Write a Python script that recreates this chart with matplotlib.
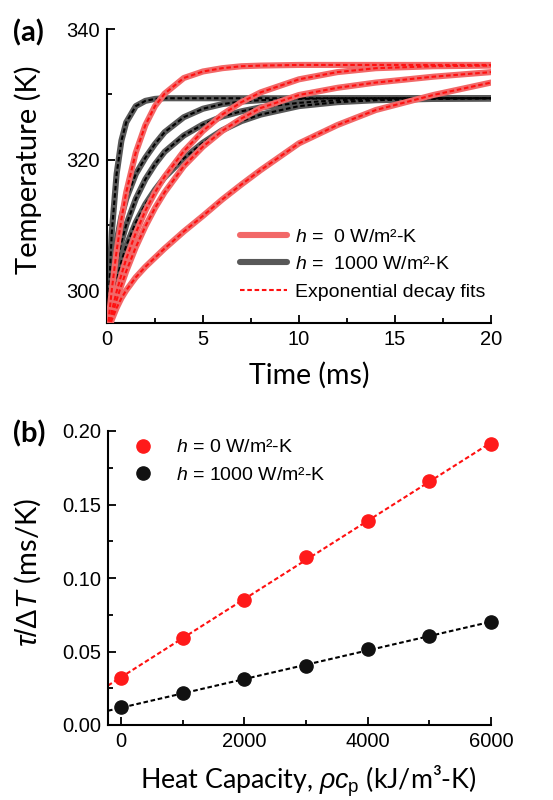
import numpy as np
import matplotlib
matplotlib.use('Agg')
import matplotlib.pyplot as plt
from matplotlib.ticker import MultipleLocator, FormatStrFormatter
from matplotlib.lines import Line2D

plt.rcParams['font.family'] = ['Liberation Sans', 'DejaVu Sans']
plt.rcParams['mathtext.fontset'] = 'custom'
plt.rcParams['mathtext.rm'] = 'Liberation Sans'
plt.rcParams['mathtext.it'] = 'Liberation Sans:italic'

# ---------------- data: panel (a) ----------------
time_ms = [0, 0.25, 0.5, 0.75, 1, 1.5, 2, 2.5, 3, 4, 5, 6, 7, 8, 10, 12, 14, 17, 20]

temp_h0 = [
    [293.0, 300.1, 306.0, 310.9, 315.0, 321.1, 325.3, 328.2, 330.1, 332.5, 333.5, 334.0, 334.3, 334.4, 334.5, 334.5, 334.5, 334.5, 334.5],
    [293.0, 296.8, 299.8, 302.4, 304.8, 308.8, 312.2, 315.0, 317.4, 321.3, 324.4, 326.9, 328.8, 330.3, 332.3, 333.4, 334.0, 334.3, 334.4],
    [293.0, 296.0, 298.5, 300.8, 302.9, 306.6, 309.8, 312.6, 315.0, 319.0, 322.0, 324.4, 326.3, 327.9, 329.9, 331.0, 331.8, 332.7, 333.4],
    [293.0, 295.5, 297.3, 298.8, 300.0, 302.0, 303.6, 305.0, 306.4, 309.0, 311.4, 313.9, 316.2, 318.4, 322.5, 325.3, 327.6, 329.9, 331.8],
]

temp_h1000 = [
    [293.0, 308.9, 317.8, 322.9, 325.7, 328.2, 329.0, 329.3, 329.4, 329.4, 329.4, 329.4, 329.4, 329.4, 329.4, 329.4, 329.4, 329.4, 329.4],
    [293.0, 302.0, 307.5, 311.3, 314.0, 317.8, 320.3, 322.4, 324.2, 326.5, 327.8, 328.5, 328.9, 329.1, 329.3, 329.4, 329.4, 329.4, 329.4],
    [293.0, 299.5, 304.0, 307.4, 310.0, 314.0, 317.0, 319.3, 321.2, 323.7, 325.4, 326.6, 327.4, 328.0, 328.7, 329.1, 329.3, 329.4, 329.4],
    [293.0, 298.0, 301.6, 304.4, 306.8, 310.4, 313.2, 315.4, 317.3, 320.2, 322.6, 324.5, 325.9, 326.9, 328.2, 328.8, 329.1, 329.3, 329.4],
]

# ---------------- data: panel (b) ----------------
heat_capacity = [0, 1000, 2000, 3000, 4000, 5000, 6000]
tau_dT_h0 = [0.032, 0.059, 0.085, 0.114, 0.139, 0.166, 0.191]
tau_dT_h1000 = [0.012, 0.0215, 0.031, 0.040, 0.052, 0.0605, 0.070]

legend_a = [r'$h$ =  0 W/m²-K', r'$h$ =  1000 W/m²-K', 'Exponential decay fits']
legend_b = [r'$h$ = 0 W/m²-K', r'$h$ = 1000 W/m²-K']

RED_SOLID = '#f26868'
GRAY_SOLID = '#585858'
RED_FIT = '#ff1010'
BLACK_FIT = '#000000'
LABEL_FONT = ['Lato', 'DejaVu Sans']

fig = plt.figure(figsize=(5.53, 8.0), dpi=100)
ax1 = fig.add_axes([107/553, 1-323/800, 384/553, 294/800])
ax2 = fig.add_axes([108/553, 1-725/800, 383/553, 294/800])

def style_axes(ax):
    for s in ['top', 'right']:
        ax.spines[s].set_visible(False)
    for s in ['left', 'bottom']:
        ax.spines[s].set_linewidth(1.5)
    ax.tick_params(which='both', direction='in', width=1.3, labelsize=14.5, pad=5)
    ax.tick_params(which='major', length=6)
    ax.tick_params(which='minor', length=3.5)

# ---- panel (a) ----
dash = (2.2, 1.3)
for T in temp_h1000:
    ax1.plot(time_ms, T, color=GRAY_SOLID, lw=4.4, solid_capstyle='round', zorder=2)
    ax1.plot(time_ms, T, color=BLACK_FIT, lw=1.5, dashes=dash, zorder=3)
for T in temp_h0:
    ax1.plot(time_ms, T, color=RED_SOLID, lw=4.4, solid_capstyle='round', zorder=4)
    ax1.plot(time_ms, T, color=RED_FIT, lw=1.5, dashes=dash, zorder=5)

ax1.set_xlim(0, 20)
ax1.set_ylim(295, 340)
ax1.xaxis.set_major_locator(MultipleLocator(5))
ax1.xaxis.set_minor_locator(MultipleLocator(2.5))
ax1.yaxis.set_major_locator(MultipleLocator(20))
ax1.yaxis.set_minor_locator(MultipleLocator(10))
style_axes(ax1)
ax1.set_xlabel('Time (ms)', fontsize=20.5, family=LABEL_FONT)
ax1.set_ylabel('Temperature (K)', fontsize=21, family=LABEL_FONT)
ax1.xaxis.set_label_coords(0.526, -0.133, transform=ax1.transAxes)
ax1.yaxis.set_label_coords(-0.168, 0.52, transform=ax1.transAxes)

handles_a = [
    Line2D([], [], color=RED_SOLID, lw=4.4, solid_capstyle='round'),
    Line2D([], [], color=GRAY_SOLID, lw=4.4, solid_capstyle='round'),
    Line2D([], [], color=RED_FIT, lw=1.5, dashes=dash),
]
ax1.legend(handles_a, legend_a, loc='lower right', bbox_to_anchor=(1.02, 0.03),
           frameon=False, fontsize=14, handlelength=2.4, handletextpad=0.4,
           labelspacing=0.5, borderaxespad=0.3)

# ---- panel (b) ----
xfit = np.array([-211, 6000])
for y, c_fit in [(tau_dT_h0, RED_FIT), (tau_dT_h1000, BLACK_FIT)]:
    p = np.polyfit(heat_capacity, y, 1)
    ax2.plot(xfit, np.polyval(p, xfit), color=c_fit, lw=1.5, dashes=dash, zorder=2)
ax2.plot(heat_capacity, tau_dT_h0, 'o', color='#ff1a1a', ms=9.5, clip_on=False, zorder=3,
         label=legend_b[0])
ax2.plot(heat_capacity, tau_dT_h1000, 'o', color='#111111', ms=9.5, clip_on=False, zorder=3,
         label=legend_b[1])
ax2.set_xlim(-211, 6000)
ax2.set_ylim(0, 0.2)
ax2.xaxis.set_major_locator(MultipleLocator(2000))
ax2.xaxis.set_minor_locator(MultipleLocator(1000))
ax2.yaxis.set_major_locator(MultipleLocator(0.05))
ax2.yaxis.set_minor_locator(MultipleLocator(0.025))
ax2.yaxis.set_major_formatter(FormatStrFormatter('%.2f'))
style_axes(ax2)
ax2.set_xlabel(r'Heat Capacity, $\rho c_\mathrm{p}$ (kJ/m³-K)', fontsize=19.3,
               family=LABEL_FONT)
ax2.set_ylabel(r'$\tau/\Delta T$ (ms/K)', fontsize=21, family=LABEL_FONT)
ax2.xaxis.set_label_coords(0.5235, -0.13, transform=ax2.transAxes)
ax2.yaxis.set_label_coords(-0.17, 0.52, transform=ax2.transAxes)
ax2.legend(loc='upper left', bbox_to_anchor=(0.03, 1.02), frameon=False, fontsize=14,
           handlelength=1.0, handletextpad=1.2, labelspacing=0.5, borderaxespad=0.3)

fig.text(13/553, 1-41/800, '(a)', fontsize=21, fontweight='bold', family=LABEL_FONT)
fig.text(13/553, 1-442/800, '(b)', fontsize=21, fontweight='bold', family=LABEL_FONT)

fig.savefig('out.png', dpi=100)
